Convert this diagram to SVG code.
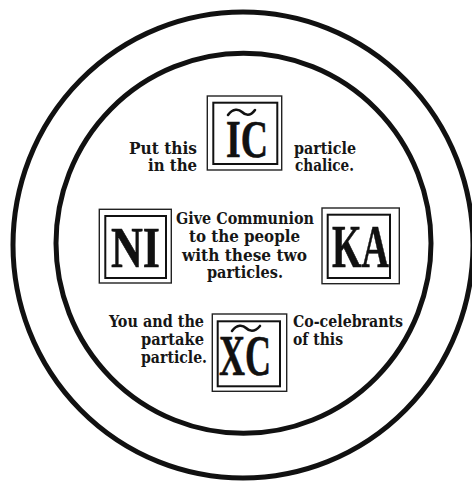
<svg xmlns="http://www.w3.org/2000/svg" width="472" height="483" viewBox="0 0 472 483">
<style>
.ring{fill:none;stroke:#111;stroke-width:5}
.bo{fill:none;stroke:#222;stroke-width:1.4}
.bi{fill:none;stroke:#111;stroke-width:2}
.t{font-family:"DejaVu Serif Condensed","DejaVu Serif","Liberation Serif",serif;font-weight:bold;font-size:16px;fill:#161616}
.g{font-family:"Liberation Serif","DejaVu Serif",serif;font-weight:bold;fill:#111;stroke:#111;stroke-width:0.6}
.tl{fill:none;stroke:#111;stroke-width:2.6;stroke-linecap:round}
</style>
<rect width="472" height="483" fill="#fff"/>
<g id="plate">
<ellipse class="ring" cx="243" cy="245" rx="230" ry="233"/>
<ellipse class="ring" cx="243.5" cy="243.3" rx="187.5" ry="190"/>
</g>
<g id="node-ic">
<rect class="bo" x="207.3" y="96" width="74.4" height="74"/>
<rect class="bi" x="213.3" y="102.7" width="64" height="61.3"/>
<path class="tl" d="M228,115 C233,108 239,109 242,112 S250,117 255,110"/>
<text class="g" x="226" y="157" font-size="53" textLength="42" lengthAdjust="spacingAndGlyphs">IC</text>
</g>
<g id="node-ni">
<rect class="bo" x="99.3" y="209.3" width="72" height="73.7"/>
<rect class="bi" x="105.3" y="216" width="60.7" height="62"/>
<text class="g" x="111" y="267" font-size="58" textLength="49" lengthAdjust="spacingAndGlyphs">NI</text>
</g>
<g id="node-ka">
<rect class="bo" x="322" y="208" width="77.3" height="75.7"/>
<rect class="bi" x="327.7" y="214.7" width="62.3" height="63.3"/>
<text class="g" x="332" y="267" font-size="62" textLength="57" lengthAdjust="spacingAndGlyphs">KA</text>
</g>
<g id="node-xc">
<rect class="bo" x="212.3" y="314" width="74.4" height="77.3"/>
<rect class="bi" x="217.7" y="321.3" width="62.3" height="65"/>
<path class="tl" d="M232,331 C237,324 243,325 246,328 S254,333 260,326"/>
<text class="g" x="219" y="375" font-size="56" textLength="52" lengthAdjust="spacingAndGlyphs">XC</text>
</g>
<g id="text-top">
<text class="t" x="197" y="154" text-anchor="end" textLength="68" lengthAdjust="spacingAndGlyphs">Put this</text>
<text class="t" x="197" y="171" text-anchor="end" textLength="49" lengthAdjust="spacingAndGlyphs">in the</text>
<text class="t" x="294" y="154" textLength="62" lengthAdjust="spacingAndGlyphs">particle</text>
<text class="t" x="295" y="171" textLength="59" lengthAdjust="spacingAndGlyphs">chalice.</text>
</g>
<g id="text-middle">
<text class="t" x="176" y="224" textLength="138" lengthAdjust="spacingAndGlyphs">Give Communion</text>
<text class="t" x="189" y="242" textLength="111" lengthAdjust="spacingAndGlyphs">to the people</text>
<text class="t" x="182" y="260.5" textLength="125" lengthAdjust="spacingAndGlyphs">with these two</text>
<text class="t" x="207" y="278" textLength="76" lengthAdjust="spacingAndGlyphs">particles.</text>
</g>
<g id="text-bottom">
<text class="t" x="109" y="327" textLength="95" lengthAdjust="spacingAndGlyphs">You and the</text>
<text class="t" x="141" y="345" textLength="63" lengthAdjust="spacingAndGlyphs">partake</text>
<text class="t" x="141" y="363" textLength="66" lengthAdjust="spacingAndGlyphs">particle.</text>
<text class="t" x="293" y="327" textLength="110" lengthAdjust="spacingAndGlyphs">Co-celebrants</text>
<text class="t" x="293" y="345" textLength="50" lengthAdjust="spacingAndGlyphs">of this</text>
</g>
</svg>
